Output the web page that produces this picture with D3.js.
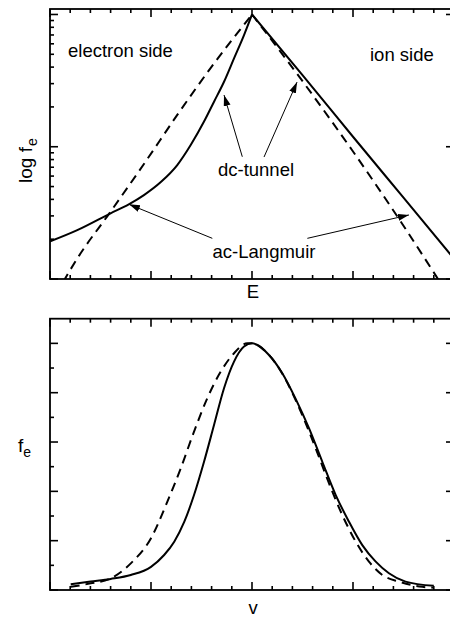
<!DOCTYPE html>
<html>
<head>
<meta charset="utf-8">
<script src="https://cdn.jsdelivr.net/npm/d3@7"></script>
<style>
  body { margin: 0; background: #fff; }
  svg text { font-family: "Liberation Sans", Arial, Helvetica, sans-serif; fill: #000; }
</style>
</head>
<body>
<div id="chart"></div>
<script>
// ---- tick values ----
const xMajor = [-2, -1, 0, 1, 2];
const xMinor = [-1.8, -1.6, -1.4, -1.2, -0.8, -0.6, -0.4, -0.2, 0.2, 0.4, 0.6, 0.8, 1.2, 1.4, 1.6, 1.8];
const logMajor = [0.1, 1, 10];
const logMinor = [0.2, 0.3, 0.4, 0.5, 0.6, 0.7, 0.8, 0.9, 2, 3, 4, 5, 6, 7, 8, 9];
const linMajor = [0, 0.2, 0.4, 0.6, 0.8, 1.0];
const linMinor = [0.1, 0.3, 0.5, 0.7, 0.9];

// ---- top panel: log f_e vs E ----
// dc-tunnel (solid), electron side and ion side
const tunnelLeftE = [-2.05, -1.73, -1.40, -1.22, -1.07, -0.90, -0.74, -0.607, -0.475, -0.376, -0.277, -0.178, -0.079, 0];
const tunnelLeftF = [0.186, 0.234, 0.314, 0.367, 0.431, 0.543, 0.727, 1.03, 1.55, 2.19, 3.10, 4.66, 6.99, 10];
const tunnelRightE = [0, 0.5, 1.0, 1.5, 2.05];
const tunnelRightF = [10, 3.48, 1.19, 0.412, 0.128];
// ac-Langmuir (dashed)
const langLeftE = [-1.87, -1.73, -1.40, -1.07, -0.74, -0.41, 0];
const langLeftF = [0.095, 0.143, 0.323, 0.74, 1.74, 3.93, 10];
const langRightE = [0, 0.495, 0.99, 1.485, 1.82, 1.86];
const langRightF = [10, 3.17, 0.944, 0.263, 0.106, 0.095];

// ---- bottom panel: f_e vs v ----
const tunnelV = [-1.795, -1.597, -1.40, -1.20, -1.00, -0.87, -0.77, -0.67, -0.574, -0.475, -0.376, -0.277, -0.178, -0.079, 0,
                 0.168, 0.30, 0.43, 0.564, 0.696, 0.829, 0.96, 1.092, 1.225, 1.356, 1.52, 1.80];
const tunnelFv = [0.023, 0.034, 0.045, 0.061, 0.094, 0.142, 0.196, 0.277, 0.385, 0.520, 0.669, 0.818, 0.926, 0.987, 1.0,
                  0.953, 0.879, 0.777, 0.656, 0.520, 0.385, 0.277, 0.182, 0.115, 0.068, 0.034, 0.017];
const langV = [-1.795, -1.597, -1.40, -1.20, -1.00, -0.838, -0.706, -0.574, -0.443, -0.31, -0.178, -0.047, 0,
               0.168, 0.30, 0.43, 0.63, 0.762, 0.894, 1.027, 1.158, 1.29, 1.455, 1.686, 1.80];
const langFv = [0.013, 0.027, 0.047, 0.108, 0.21, 0.358, 0.493, 0.642, 0.777, 0.885, 0.96, 1.0, 1.0,
                0.953, 0.877, 0.772, 0.575, 0.433, 0.304, 0.196, 0.115, 0.061, 0.034, 0.013, 0.009];

// ---- annotations (E, f) ----
const arrowsTop = [
    { from: [-0.096, 0.84], to: [-0.277, 2.46] },
    { from: [0.119, 0.836], to: [0.446, 3.08] },
    { from: [-0.393, 0.203], to: [-1.218, 0.367] },
    { from: [0.548, 0.203], to: [1.554, 0.305] }
];

/*
SVG + SCALES
*/
const width = 450, height = 620;
const svg = d3.select("#chart").append("svg")
    .attr("width", width)
    .attr("height", height);

const xScale = d3.scaleLinear().domain([-2, 2]).range([50, 454]);
const yTop = d3.scaleLog().domain([0.1, 11]).range([279, 9]);
const yBot = d3.scaleLinear().domain([0, 1.1]).range([590, 318.7]);

const defs = svg.append("defs");
defs.append("marker")
    .attr("id", "head")
    .attr("markerUnits", "userSpaceOnUse")
    .attr("markerWidth", 12).attr("markerHeight", 8)
    .attr("refX", 11).attr("refY", 3.5)
    .attr("orient", "auto")
    .append("path")
    .attr("d", "M0,0 L11,3.5 L0,7 Z")
    .attr("fill", "#000");

// inward ticks on all four sides of a frame
function drawTicks(g, values, scale, len, horizontal, y0, y1) {
    const x0 = xScale.range()[0], x1 = xScale.range()[1];
    const sides = horizontal
        ? [[y0, -len], [y1, len]]
        : [[x0, len], [x1, -len]];
    sides.forEach(function (s) {
        g.selectAll(null)
            .data(values)
            .enter()
            .append("line")
            .attr("x1", d => horizontal ? scale(d) : s[0])
            .attr("x2", d => horizontal ? scale(d) : s[0] + s[1])
            .attr("y1", d => horizontal ? s[0] : scale(d))
            .attr("y2", d => horizontal ? s[0] + s[1] : scale(d))
            .attr("stroke", "#000")
            .attr("stroke-width", 1.6);
    });
}

function panel(id, yScale, majorY, minorY) {
    const [y0, y1] = yScale.range();
    const [x0, x1] = xScale.range();
    defs.append("clipPath").attr("id", id)
        .append("rect")
        .attr("x", x0).attr("y", y1)
        .attr("width", x1 - x0).attr("height", y0 - y1);

    const g = svg.append("g");
    drawTicks(g, xMajor, xScale, 8, true, y0, y1);
    drawTicks(g, xMinor, xScale, 4, true, y0, y1);
    drawTicks(g, majorY, yScale, 8, false);
    drawTicks(g, minorY, yScale, 4, false);

    g.append("rect")
        .attr("x", x0).attr("y", y1)
        .attr("width", x1 - x0).attr("height", y0 - y1)
        .attr("fill", "none")
        .attr("stroke", "#000")
        .attr("stroke-width", 1.8);

    return svg.append("g").attr("clip-path", `url(#${id})`);
}

function drawCurve(g, xs, ys, yScale, dashed) {
    const pts = xs.map((x, i) => [x, ys[i]]);
    g.append("path")
        .datum(pts)
        .attr("fill", "none")
        .attr("stroke", "#000")
        .attr("stroke-width", 2)
        .attr("stroke-dasharray", dashed ? "9,6" : null)
        .attr("d", d3.line()
            .x(d => xScale(d[0]))
            .y(d => yScale(d[1]))
            .curve(d3.curveMonotoneX));
}

/*
TOP PANEL
*/
const topPanel = panel("clipTop", yTop, logMajor, logMinor);
drawCurve(topPanel, tunnelLeftE, tunnelLeftF, yTop, false);
drawCurve(topPanel, tunnelRightE, tunnelRightF, yTop, false);
drawCurve(topPanel, langLeftE, langLeftF, yTop, true);
drawCurve(topPanel, langRightE, langRightF, yTop, true);

svg.append("g").selectAll("line")
    .data(arrowsTop)
    .enter()
    .append("line")
    .attr("x1", d => xScale(d.from[0]))
    .attr("y1", d => yTop(d.from[1]))
    .attr("x2", d => xScale(d.to[0]))
    .attr("y2", d => yTop(d.to[1]))
    .attr("stroke", "#000")
    .attr("stroke-width", 1)
    .attr("marker-end", "url(#head)");

const fs = "18.5px";
svg.append("text").attr("x", 68).attr("y", 57).style("font-size", fs).text("electron side");
svg.append("text").attr("x", 370).attr("y", 61).style("font-size", fs).text("ion side");
svg.append("text").attr("x", 256).attr("y", 176).attr("text-anchor", "middle").style("font-size", fs).text("dc-tunnel");
svg.append("text").attr("x", 264).attr("y", 258).attr("text-anchor", "middle").style("font-size", fs).text("ac-Langmuir");
svg.append("text").attr("x", 253).attr("y", 298).attr("text-anchor", "middle").style("font-size", fs).text("E");

const yLabTop = svg.append("text")
    .attr("transform", "translate(32,183) rotate(-90)")
    .style("font-size", "19px");
yLabTop.append("tspan").text("log f");
yLabTop.append("tspan").attr("dy", 5).attr("dx", 1).style("font-size", "14px").text("e");

/*
BOTTOM PANEL
*/
const botPanel = panel("clipBot", yBot, linMajor, linMinor);
drawCurve(botPanel, tunnelV, tunnelFv, yBot, false);
drawCurve(botPanel, langV, langFv, yBot, true);

svg.append("text").attr("x", 253).attr("y", 614).attr("text-anchor", "middle").style("font-size", fs).text("v");

const yLabBot = svg.append("text")
    .attr("x", 18).attr("y", 452)
    .style("font-size", "19px");
yLabBot.append("tspan").text("f");
yLabBot.append("tspan").attr("dy", 5).style("font-size", "14px").text("e");
</script>
</body>
</html>
